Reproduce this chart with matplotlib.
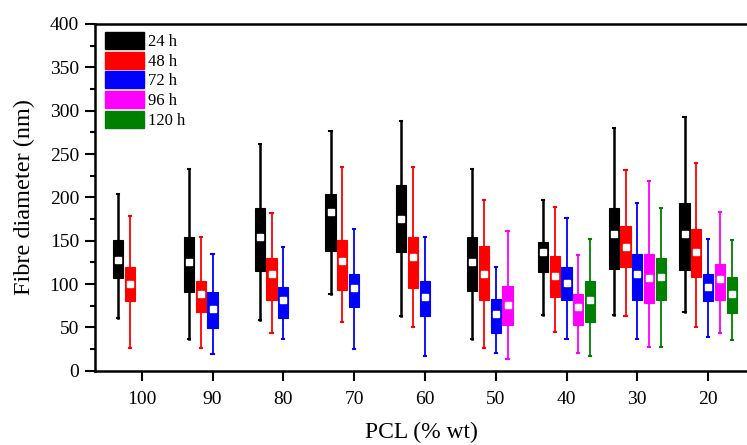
import matplotlib
matplotlib.use("Agg")
import matplotlib.pyplot as plt
from matplotlib.patches import Patch
from matplotlib.ticker import MultipleLocator

plt.rcParams['font.family'] = ['Liberation Serif', 'DejaVu Serif']

categories = ['100', '90', '80', '70', '60', '50', '40', '30', '20']
series = ['24 h', '48 h', '72 h', '96 h', '120 h']
colors = ['#000000', '#ff0000', '#0000ff', '#ff00ff', '#008000']

# per series: list over categories of (whislo, q1, mean, q3, whishi); None = missing
s24 = [(61, 107, 128, 151, 204), (37, 91, 125, 154, 233), (59, 115, 154, 188, 262),
       (88, 138, 183, 204, 277), (63, 137, 175, 214, 288), (37, 92, 125, 154, 233),
       (64, 114, 137, 149, 197), (64, 117, 158, 188, 280), (68, 116, 158, 193, 293)]
s48 = [(26, 80, 100, 120, 179), (26, 68, 89, 104, 154), (44, 81, 111, 130, 182),
       (56, 93, 127, 151, 235), (50, 95, 131, 154, 235), (26, 81, 112, 144, 197),
       (45, 85, 109, 132, 189), (63, 120, 143, 167, 232), (50, 108, 137, 163, 240)]
s72 = [None, (19, 49, 71, 91, 135), (36, 61, 81, 97, 143),
       (25, 74, 95, 111, 163), (17, 63, 85, 104, 154), (20, 44, 65, 83, 120),
       (36, 81, 101, 120, 176), (37, 81, 111, 135, 193), (39, 80, 97, 112, 152)]
s96 = [None, None, None, None, None, (13, 53, 76, 98, 161),
       (20, 53, 74, 88, 133), (27, 78, 107, 135, 219), (44, 81, 106, 123, 183)]
s120 = [None, None, None, None, None, None,
        (17, 56, 82, 104, 152), (27, 82, 108, 130, 188), (35, 66, 88, 108, 151)]
all_series = [s24, s48, s72, s96, s120]

W, H = 747, 445
fig = plt.figure(figsize=(W / 100, H / 100), dpi=100)
ax = fig.add_axes([95 / W, (H - 370.7) / H, (W - 95) / W, (370.7 - 24) / H])

step = 1 / 6
for i, (data, c) in enumerate(zip(all_series, colors)):
    stats, pos = [], []
    for k, d in enumerate(data):
        if d is None:
            continue
        lo, q1, mean, q3, hi = d
        stats.append(dict(whislo=lo, q1=q1, med=mean, q3=q3, whishi=hi, mean=mean, fliers=[]))
        pos.append(k + (i - 2) * step)
    lw = 1.8 if i == 0 else 1.3
    ax.bxp(stats, positions=pos, widths=0.145, showmeans=True, patch_artist=True,
           showfliers=False, manage_ticks=False,
           boxprops=dict(facecolor=c, edgecolor=c, linewidth=0.8),
           medianprops=dict(color=c, linewidth=0),
           whiskerprops=dict(color=c, linewidth=lw),
           capprops=dict(color=c, linewidth=1.5), capwidths=0.03,
           meanprops=dict(marker='s', markerfacecolor='white', markeredgecolor='white',
                          markersize=4.5))

ax.set_xlim(-0.66, (W - 141.7) / 70.8)
ax.set_ylim(0, 400)
ax.set_xticks(range(len(categories)))
ax.set_xticklabels(categories)
ax.yaxis.set_major_locator(MultipleLocator(50))
ax.yaxis.set_minor_locator(MultipleLocator(25))
ax.tick_params(axis='both', which='major', direction='out', length=7.5, width=1.5,
               labelsize=14, colors='black')
ax.tick_params(axis='x', pad=7)
ax.tick_params(axis='y', pad=4)
ax.tick_params(axis='y', which='minor', direction='out', length=3.8, width=1.5)
ax.spines['right'].set_visible(False)
for s in ['left', 'bottom', 'top']:
    ax.spines[s].set_linewidth(1.8)

ax.set_ylabel('Fibre diameter (nm)', fontsize=17.5, labelpad=10.5)
ax.set_xlabel('PCL (% wt)', fontsize=17, labelpad=10)

handles = [Patch(facecolor=c, edgecolor=c) for c in colors]
ax.legend(handles, series, loc='upper left', bbox_to_anchor=(10 / 652, 1 - 8 / 346.7),
          frameon=False, fontsize=12, handlelength=2.35, handleheight=1.2,
          labelspacing=0.09, handletextpad=0.25, borderpad=0, borderaxespad=0)

fig.savefig('out.png', dpi=100)
